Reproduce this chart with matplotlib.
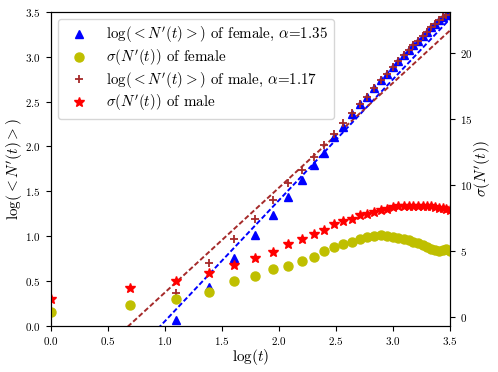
import numpy as np
import matplotlib
matplotlib.use("Agg")
import matplotlib.pyplot as plt

plt.rcParams['font.family'] = 'serif'
plt.rcParams['font.serif'] = ['cmr10']
plt.rcParams['mathtext.fontset'] = 'cm'
plt.rcParams['axes.formatter.use_mathtext'] = True

t = np.arange(1, 34)
x = np.log(t)

# log(<N'(t)>) of female (t=3..33)
female_log = [np.nan, np.nan, 0.06, 0.43, 0.75, 1.01, 1.23, 1.43, 1.63, 1.79,
              1.93, 2.10, 2.22, 2.36, 2.47, 2.55, 2.65, 2.74, 2.81, 2.89,
              2.95, 3.02, 3.07, 3.13, 3.18, 3.23, 3.28, 3.33, 3.37, 3.41,
              3.44, 3.47, 3.50]
# log(<N'(t)>) of male
male_log = [np.nan, np.nan, 0.37, 0.70, 0.97, 1.19, 1.40, 1.59, 1.74, 1.88,
            2.02, 2.14, 2.26, 2.37, 2.47, 2.55, 2.65, 2.74, 2.81, 2.89,
            2.95, 3.02, 3.07, 3.13, 3.18, 3.23, 3.28, 3.33, 3.37, 3.41,
            3.44, 3.47, 3.50]
# sigma(N'(t)) of female
female_sigma = [0.45, 0.98, 1.42, 1.90, 2.74, 3.16, 3.70, 3.90, 4.30, 4.60,
                5.04, 5.32, 5.55, 5.74, 5.90, 6.10, 6.15, 6.20, 6.15, 6.08,
                6.02, 5.95, 5.85, 5.74, 5.62, 5.47, 5.32, 5.19, 5.09, 5.04,
                5.11, 5.19, 5.06]
# sigma(N'(t)) of male
male_sigma = [1.38, 2.20, 2.75, 3.36, 3.93, 4.48, 4.98, 5.54, 5.92, 6.30,
              6.63, 7.03, 7.29, 7.48, 7.71, 7.86, 7.99, 8.12, 8.22, 8.32,
              8.39, 8.42, 8.45, 8.45, 8.45, 8.45, 8.42, 8.39, 8.34, 8.29,
              8.24, 8.19, 8.14]

alpha_f, b_f = 1.35, -1.30
alpha_m, b_m = 1.17, -0.80

fig = plt.figure(figsize=(4.98, 3.72), dpi=100)
ax = fig.add_axes([0.102, 0.1245, 0.802, 0.8435])
ax2 = ax.twinx()

xx = np.linspace(0, 3.5, 200)
ax.plot(xx, alpha_f * xx + b_f, '--', color='blue', lw=1.4, dashes=(2.6, 1.3))
ax.plot(xx, alpha_m * xx + b_m, '--', color='brown', lw=1.4, dashes=(2.6, 1.3))

h1, = ax.plot(x, female_log, '^', color='blue', ms=6.2, ls='none',
              label=r"$\log(<N'(t)>)$ of female, $\alpha$=1.35")
h3, = ax.plot(x, male_log, '+', color='brown', ms=6.2, mew=1.3, ls='none',
              label=r"$\log(<N'(t)>)$ of male, $\alpha$=1.17")
h2, = ax2.plot(x, female_sigma, 'o', color='y', ms=6.5, ls='none',
               label=r"$\sigma(N'(t))$ of female")
h4, = ax2.plot(x, male_sigma, '*', color='red', ms=7, ls='none',
               label=r"$\sigma(N'(t))$ of male")

ax.set_xlim(0, 3.5)
ax.set_ylim(0, 3.5)
ax2.set_ylim(-0.62, 23.1)
ax2.set_yticks([0, 5, 10, 15, 20])

ax.tick_params(labelsize=8)
ax2.tick_params(labelsize=8)
ax.set_xlabel(r"$\log(t)$", fontsize=11, labelpad=0)
ax.set_ylabel(r"$\log(<N'(t)>)$", fontsize=11, labelpad=0.5)
ax2.set_ylabel(r"$\sigma(N'(t))$", fontsize=11, labelpad=0)

ax2.legend(handles=[h1, h2, h3, h4], loc='upper left', fontsize=10.8,
           labelspacing=0.17)

fig.savefig('out.png', dpi=100)
